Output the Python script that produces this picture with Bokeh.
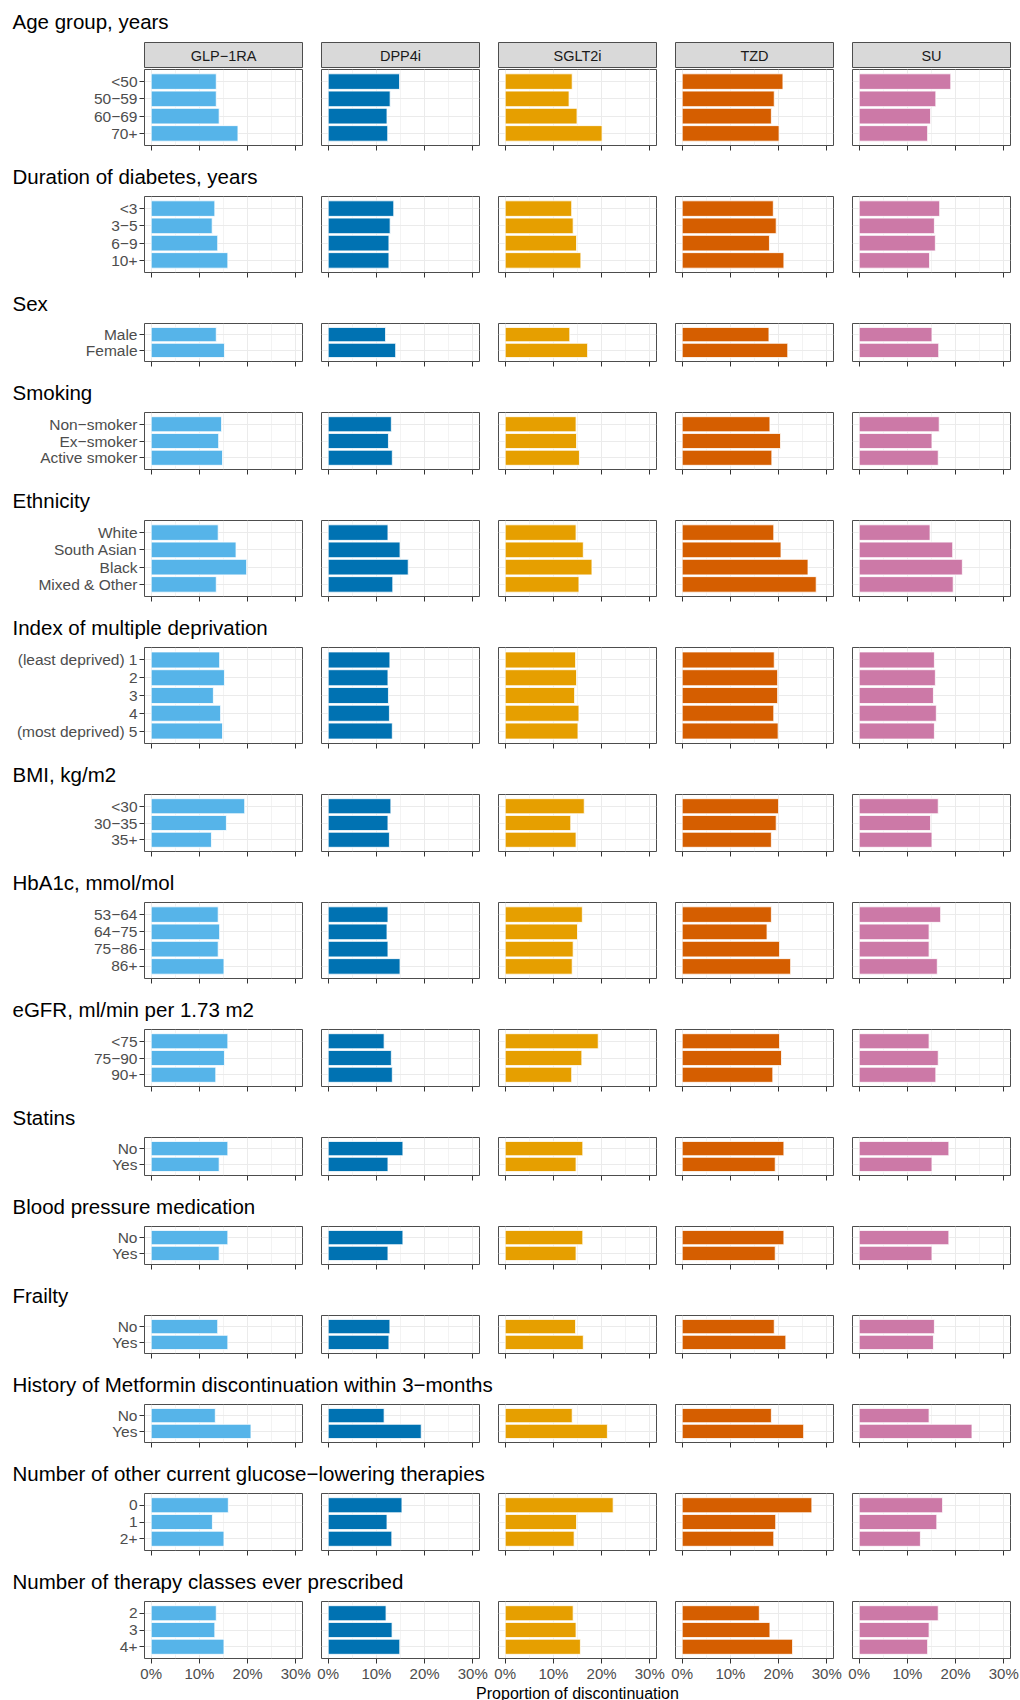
from bokeh.plotting import figure
from bokeh.layouts import column, row
from bokeh.models import Range1d, FactorRange, FixedTicker, PrintfTickFormatter, ColumnDataSource
from bokeh.core.properties import value
from bokeh.embed import file_html
from bokeh.resources import INLINE

# ---------------- data ----------------
drugs = ["GLP\u22121RA", "DPP4i", "SGLT2i", "TZD", "SU"]
drug_colors = ["#56B4E9", "#0072B2", "#E69F00", "#D55E00", "#CC79A7"]

# each *_values list: one list per drug (GLP-1RA, DPP4i, SGLT2i, TZD, SU), % discontinuation
age_labels = ["<50", "50\u221259", "60\u221269", "70+"]
age_values = [[13.5, 13.5, 14.1, 18.0], [14.8, 12.85, 12.2, 12.35], [13.9, 13.25, 14.9, 20.1],
              [20.9, 19.1, 18.5, 20.1], [19.0, 15.9, 14.8, 14.2]]

duration_labels = ["<3", "3\u22125", "6\u22129", "10+"]
duration_values = [[13.2, 12.65, 13.8, 15.9], [13.6, 12.85, 12.6, 12.6], [13.8, 14.1, 14.8, 15.7],
                   [18.9, 19.5, 18.1, 21.1], [16.7, 15.6, 15.8, 14.6]]

sex_labels = ["Male", "Female"]
sex_values = [[13.5, 15.2], [11.9, 14.0], [13.4, 17.1], [18.0, 21.9], [15.1, 16.5]]

smoking_labels = ["Non\u2212smoker", "Ex\u2212smoker", "Active smoker"]
smoking_values = [[14.6, 14.0, 14.8], [13.1, 12.5, 13.3], [14.7, 14.8, 15.4],
                  [18.2, 20.4, 18.6], [16.6, 15.1, 16.4]]

ethnicity_labels = ["White", "South Asian", "Black", "Mixed & Other"]
ethnicity_values = [[13.9, 17.6, 19.8, 13.5], [12.4, 14.9, 16.6, 13.4], [14.7, 16.2, 18.0, 15.3],
                    [19.0, 20.5, 26.1, 27.8], [14.7, 19.4, 21.4, 19.5]]

imd_labels = ["(least deprived) 1", "2", "3", "4", "(most deprived) 5"]
imd_values = [[14.2, 15.2, 12.9, 14.4, 14.8], [12.8, 12.4, 12.5, 12.7, 13.3],
              [14.6, 14.8, 14.4, 15.3, 15.1], [19.1, 19.8, 19.8, 19.0, 19.9],
              [15.6, 15.8, 15.4, 16.0, 15.6]]

bmi_labels = ["<30", "30\u221235", "35+"]
bmi_values = [[19.4, 15.6, 12.5], [13.0, 12.4, 12.7], [16.4, 13.6, 14.7],
              [20.0, 19.5, 18.5], [16.4, 14.8, 15.1]]

hba1c_labels = ["53\u221264", "64\u221275", "75\u221286", "86+"]
hba1c_values = [[13.9, 14.2, 13.9, 15.1], [12.4, 12.2, 12.4, 14.9], [16.0, 15.0, 14.1, 13.9],
                [18.5, 17.6, 20.2, 22.5], [16.9, 14.5, 14.5, 16.2]]

egfr_labels = ["<75", "75\u221290", "90+"]
egfr_values = [[15.9, 15.2, 13.4], [11.6, 13.1, 13.3], [19.3, 15.9, 13.8],
               [20.2, 20.6, 18.8], [14.5, 16.4, 15.9]]

statins_labels = ["No", "Yes"]
statins_values = [[15.9, 14.1], [15.5, 12.4], [16.1, 14.7], [21.1, 19.3], [18.6, 15.1]]

bp_labels = ["No", "Yes"]
bp_values = [[15.9, 14.1], [15.5, 12.4], [16.1, 14.7], [21.1, 19.3], [18.6, 15.1]]

frailty_labels = ["No", "Yes"]
frailty_values = [[13.8, 15.9], [12.8, 12.6], [14.6, 16.2], [19.1, 21.5], [15.6, 15.4]]

metformin_labels = ["No", "Yes"]
metformin_values = [[13.3, 20.7], [11.6, 19.3], [13.9, 21.2], [18.5, 25.2], [14.5, 23.4]]

other_labels = ["0", "1", "2+"]
other_values = [[16.0, 12.7, 15.1], [15.3, 12.2, 13.2], [22.4, 14.8, 14.3],
                [26.9, 19.4, 19.0], [17.3, 16.1, 12.7]]

classes_labels = ["2", "3", "4+"]
classes_values = [[13.5, 13.2, 15.1], [12.0, 13.25, 14.85], [14.1, 14.7, 15.6],
                  [16.0, 18.2, 22.9], [16.4, 14.5, 14.2]]

section_titles = [
    "Age group, years",
    "Duration of diabetes, years",
    "Sex",
    "Smoking",
    "Ethnicity",
    "Index of multiple deprivation",
    "BMI, kg/m2",
    "HbA1c, mmol/mol",
    "eGFR, ml/min per 1.73 m2",
    "Statins",
    "Blood pressure medication",
    "Frailty",
    "History of Metformin discontinuation within 3\u2212months",
    "Number of other current glucose\u2212lowering therapies",
    "Number of therapy classes ever prescribed",
]
section_labels = [age_labels, duration_labels, sex_labels, smoking_labels, ethnicity_labels,
                  imd_labels, bmi_labels, hba1c_labels, egfr_labels, statins_labels, bp_labels,
                  frailty_labels, metformin_labels, other_labels, classes_labels]
section_values = [age_values, duration_values, sex_values, smoking_values, ethnicity_values,
                  imd_values, bmi_values, hba1c_values, egfr_values, statins_values, bp_values,
                  frailty_values, metformin_values, other_values, classes_values]

x_ticks = [0, 10, 20, 30]
x_minor_ticks = [5, 15, 25]
x_label = "Proportion of discontinuation"

# ---------------- styling / layout ----------------
FONT = "Liberation Sans"
FRAME_W = 158
PER_CAT = 19.1
LEFT_FIRST = 144
LEFT_OTHER = 10
RIGHT = 9
TOTAL_W = LEFT_FIRST + FRAME_W + RIGHT + 4 * (LEFT_OTHER + FRAME_W + RIGHT)
PANELS_CENTER = (LEFT_FIRST + (TOTAL_W - RIGHT)) / 2.0
BORDER = "#4D4D4D"
GRID = "#EBEBEB"


def text_fig(text, height, x, y, size, align="left", baseline="alphabetic"):
    p = figure(width=TOTAL_W, height=height, x_range=Range1d(0, TOTAL_W), y_range=Range1d(0, height),
               x_axis_location=None, y_axis_location=None, toolbar_location=None,
               output_backend="svg", min_border=0)
    p.grid.visible = False
    p.outline_line_color = None
    p.text(x=[x], y=[y], text=[text], text_font=value(FONT), text_font_size=size,
           text_color="#000000", text_baseline=baseline, text_align=align)
    return p


def make_strip(label, j):
    p = figure(frame_width=FRAME_W, frame_height=26, x_range=Range1d(0, 1), y_range=Range1d(0, 1),
               x_axis_location=None, y_axis_location=None, toolbar_location=None,
               output_backend="svg",
               min_border_left=LEFT_FIRST if j == 0 else LEFT_OTHER, min_border_right=RIGHT,
               min_border_top=2, min_border_bottom=0)
    p.grid.visible = False
    p.background_fill_color = "#D9D9D9"
    p.outline_line_color = BORDER
    p.outline_line_width = 1
    p.text(x=[0.5], y=[0.5], text=[label], text_font=value(FONT), text_font_size="14.5px",
           text_color="#1A1A1A", text_align="center", text_baseline="middle")
    return p


def make_panel(labels, vals, j, color, top, bottom, show_labels):
    frame_h = int(round(PER_CAT * len(labels)))
    p = figure(frame_width=FRAME_W, frame_height=frame_h,
               x_range=Range1d(-1.39, 31.39),
               y_range=FactorRange(factors=list(labels)[::-1], range_padding=0.2,
                                   range_padding_units="absolute"),
               y_axis_location="left" if j == 0 else None,
               toolbar_location=None, output_backend="svg",
               min_border_left=LEFT_FIRST if j == 0 else LEFT_OTHER, min_border_right=RIGHT,
               min_border_top=top, min_border_bottom=bottom)
    src = ColumnDataSource(dict(cat=list(labels), val=list(vals)))
    p.hbar(y="cat", left=0, right="val", height=0.9, source=src,
           fill_color=color, line_color="white", line_width=1, line_alpha=0.8)

    ticker = FixedTicker(ticks=x_ticks, minor_ticks=x_minor_ticks)
    p.xaxis.ticker = ticker
    p.xgrid.ticker = ticker
    p.xaxis.formatter = PrintfTickFormatter(format="%d%%")
    p.xgrid.grid_line_color = GRID
    p.xgrid.grid_line_width = 1
    p.xgrid.minor_grid_line_color = GRID
    p.xgrid.minor_grid_line_width = 0.6
    p.ygrid.grid_line_color = GRID
    p.ygrid.grid_line_width = 1

    p.outline_line_color = BORDER
    p.outline_line_width = 1

    p.xaxis.axis_line_color = None
    p.xaxis.major_tick_line_color = "#333333"
    p.xaxis.major_tick_in = 0
    p.xaxis.major_tick_out = 5
    p.xaxis.minor_tick_line_color = None
    if show_labels:
        p.xaxis.major_label_text_font = FONT
        p.xaxis.major_label_text_font_size = "15px"
        p.xaxis.major_label_text_color = "#4D4D4D"
        p.xaxis.major_label_standoff = 1
    else:
        # ticks only, no tick labels on the inner rows
        p.xaxis.major_label_text_font_size = "1px"
        p.xaxis.major_label_text_color = None
        p.xaxis.major_label_standoff = 0

    if j == 0:
        p.yaxis.axis_line_color = None
        p.yaxis.major_tick_line_color = "#333333"
        p.yaxis.major_tick_in = 0
        p.yaxis.major_tick_out = 5
        p.yaxis.major_label_text_font = FONT
        p.yaxis.major_label_text_font_size = "15.5px"
        p.yaxis.major_label_text_color = "#4D4D4D"
        p.yaxis.major_label_standoff = 2
    return p


blocks = []
n_sec = len(section_titles)
for i in range(n_sec):
    first = i == 0
    last = i == n_sec - 1
    if first:
        blocks.append(text_fig(section_titles[i], 40, 12, 19.5, "20.5px"))
    else:
        blocks.append(text_fig(section_titles[i], 36, 12, 19, "20.5px"))
    figs = []
    for j in range(len(drugs)):
        panel = make_panel(section_labels[i], section_values[i][j], j, drug_colors[j],
                           top=1, bottom=24 if last else 14, show_labels=last)
        if first:
            figs.append(column(make_strip(drugs[j], j), panel))
        else:
            figs.append(panel)
    blocks.append(row(*figs))

# shared x-axis title, centred under the panels
blocks.append(text_fig(x_label, 18, PANELS_CENTER, 9, "16px", align="center", baseline="middle"))

layout = column(*blocks)

open("out.html", "w").write(file_html(layout, INLINE))
